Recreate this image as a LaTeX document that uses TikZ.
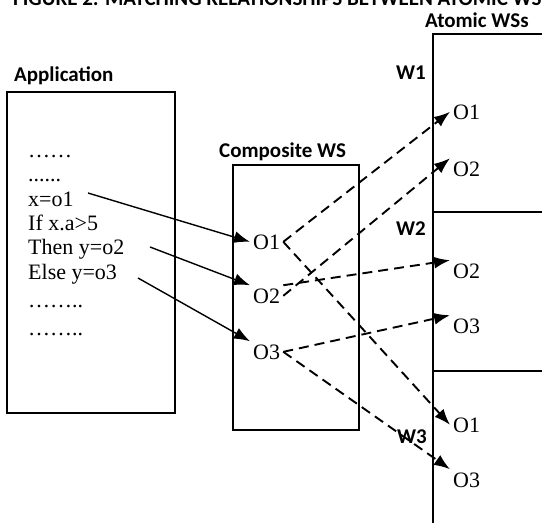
\documentclass[tikz,border=0pt]{standalone}
\usepackage{fontspec}
\setmainfont{Liberation Serif}
\newfontfamily\headfont{Carlito}
\usetikzlibrary{arrows.meta}

\begin{document}
\begin{tikzpicture}[x=1pt,y=-1pt,>={Latex[length=16pt,width=12pt]},
  box/.style={line width=1.8pt},
  code/.style={anchor=base west,inner sep=3pt,font=\fontsize{22}{26}\selectfont},
  op/.style={anchor=base west,inner sep=3pt,font=\fontsize{22}{26}\selectfont},
  head/.style={anchor=base west,inner sep=0pt,font=\headfont\bfseries\fontsize{21}{25}\selectfont},
  call/.style={->,line width=1.4pt},
  bind/.style={->,line width=1.9pt,dash pattern=on 10pt off 6pt}]
  \useasboundingbox (0,0) rectangle (542,523);
  \clip (0,0) rectangle (542,523);
  % caption, cut off at the top
  \node[head] (title) at (13,5) {FIGURE 2: MATCHING RELATIONSHIPS BETWEEN ATOMIC WS};
  % boxes
  \draw[box] (7,92) rectangle (175,413);
  \draw[box] (233,165) rectangle (359,430);
  \draw[box] (433,560) |- (560,34);
  \draw[box] (433,212) -- (560,212);
  \draw[box] (433,371) -- (560,371);
  \node[head] (app) at (14,81) {Application};
  \node[head] (comp) at (219,157) {Composite WS};
  \node[head] (atom) at (425,27) {Atomic WSs};
  \node[head] (w1) at (396,79) {W1};
  \node[head] (w2) at (396,235) {W2};
  \node[head] (w3) at (397,443) {W3};
  % application code
  \node[code] (l1) at (25,157) {……};
  \node[code] (l2) at (25,181) {......};
  \node[code] (xo1) at (25,206) {x=o1};
  \node[code] (ifx) at (25,230) {If x.a>5};
  \node[code] (then) at (25,254) {Then y=o2};
  \node[code] (else) at (25,279) {Else y=o3};
  \node[code] (l7) at (25,307) {……..};
  \node[code] (l8) at (25,335) {……..};
  % operations
  \node[op] (co1) at (250,249) {O1};
  \node[op] (co2) at (250,303) {O2};
  \node[op] (co3) at (250,359) {O3};
  \node[op] (w1o1) at (450,119) {O1};
  \node[op] (w1o2) at (450,176) {O2};
  \node[op] (w2o2) at (450,278) {O2};
  \node[op] (w2o3) at (450,333) {O3};
  \node[op] (w3o1) at (450,432) {O1};
  \node[op] (w3o3) at (450,487) {O3};
  % calls
  \coordinate (s1) at (88,193);
  \coordinate (s2) at (150,247);
  \coordinate (s3) at (138,278);
  \draw[call] (s1) -- (co1.west);
  \draw[call] (s2) -- (co2.north west);
  \draw[call] (s3) -- (co3.north west);
  % matching
  \draw[bind] (co1.east) -- (w1o1.west);
  \draw[bind] (co1.east) -- (w3o1.west);
  \draw[bind] (co2.north east) -- (w2o2.north west);
  \draw[bind] (co2.east) -- (w1o2.north west);
  \draw[bind] (co3.east) -- (w2o3.north west);
  \draw[bind] (co3.east) -- (w3o3.north west);
\end{tikzpicture}
\end{document}
